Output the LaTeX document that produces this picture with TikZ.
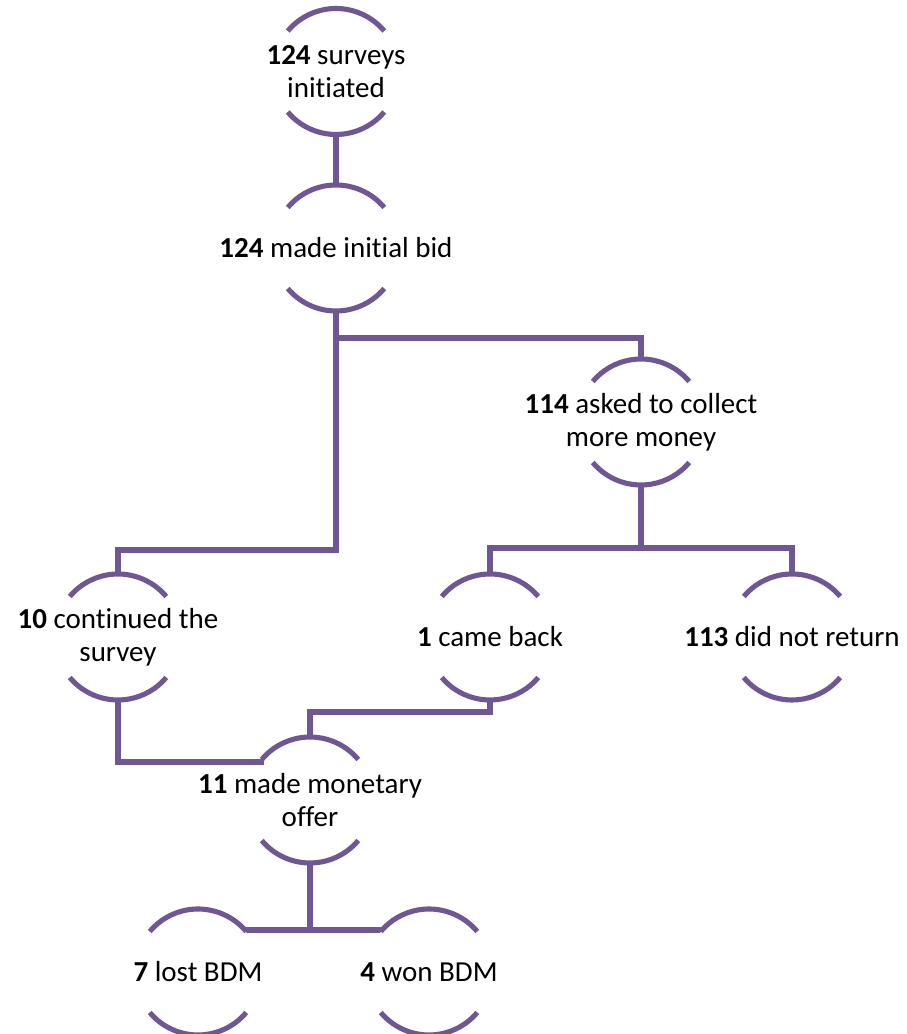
\documentclass[tikz,border=0pt]{standalone}
\usepackage{fontspec}
\setmainfont{Carlito}[Ligatures=NoCommon]
\definecolor{plum}{RGB}{111,87,148}
\tikzset{
  ring/.style={circle, minimum size=2.52cm, inner sep=0pt, outer sep=0pt},
  txt/.style={align=center, inner sep=0pt, font=\fontsize{16.5}{18.7}\selectfont},
  flow/.style={draw=plum, line width=2.9pt}
}
\begin{document}
\begin{tikzpicture}
  \useasboundingbox (0,0) rectangle (18.12,20.68);
  \node[ring, label={[txt]center:\textbf{124} surveys\\initiated}] (top) at (6.72,19.25) {};
  \node[ring, label={[txt]center:\textbf{124} made initial bid}] (bid) at (6.72,15.72) {};
  \node[ring, label={[txt]center:\textbf{114} asked to collect\\more money}] (ask) at (12.82,12.24) {};
  \node[ring, label={[txt]center:\textbf{10} continued the\\survey}] (cont) at (2.36,7.94) {};
  \node[ring, label={[txt]center:\textbf{1} came back}] (back) at (9.80,7.94) {};
  \node[ring, label={[txt]center:\textbf{113} did not return}] (gone) at (15.84,7.94) {};
  \node[ring, label={[txt]center:\textbf{11} made monetary\\offer}] (offer) at (6.20,4.68) {};
  \node[ring, label={[txt]center:\textbf{7} lost BDM}] (lost) at (3.96,1.24) {};
  \node[ring, label={[txt]center:\textbf{4} won BDM}] (won) at (8.58,1.24) {};

  % arcs above and below each label
  \foreach \n in {top,bid,ask,cont,back,gone,offer,lost,won}{
    \draw[flow] (\n.40) arc[start angle=40, end angle=140, radius=1.26];
    \draw[flow] (\n.220) arc[start angle=220, end angle=320, radius=1.26];
  }

  \draw[flow] (top) -- (bid);
  \draw[flow] (bid.south) -- ++(0,-4.78) -| (cont.north);
  \draw[flow] (bid.south) ++(0,-0.54) -| (ask.north);
  \draw[flow] (ask.south) -- ++(0,-1.26) -| (back.north);
  \draw[flow] (ask.south) -- ++(0,-1.26) -| (gone.north);
  \draw[flow] (back.south) -- ++(0,-0.24) -| (offer.north);
  \draw[flow] (cont.south) -- ++(0,-1.24) -| (offer.140);
  \draw[flow] (offer.south) -- ++(0,-1.34) -| (lost.40);
  \draw[flow] (offer.south) -- ++(0,-1.34) -| (won.140);
\end{tikzpicture}
\end{document}
